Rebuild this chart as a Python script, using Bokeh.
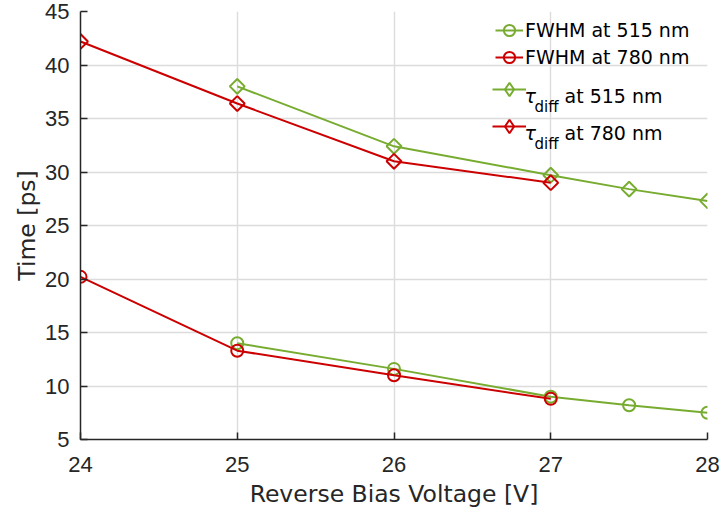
import numpy as np
from bokeh.plotting import figure
from bokeh.models import (Range1d, SingleIntervalTicker, Legend, LegendItem, Label)
from bokeh.embed import file_html
from bokeh.resources import INLINE

# ---- data ----
v_515 = [25, 26, 27, 27.5, 28]
fwhm_515 = [14.0, 11.6, 9.0, 8.2, 7.5]
v_780 = [24, 25, 26, 27]
fwhm_780 = [20.2, 13.3, 11.0, 8.8]
tau_515 = [38.0, 32.4, 29.7, 28.4, 27.3]
tau_780 = [42.2, 36.4, 31.0, 29.0]

GREEN = "#77AC30"
RED = "#CC0000"
AX = "#262626"
GRID = "#dcdcdc"

X0, X1, Y0, Y1 = 24, 28, 5, 45
FL, FT, FW, FH = 80, 11, 627, 428

p = figure(frame_width=FW, frame_height=FH, output_backend="svg", toolbar_location=None,
           x_range=Range1d(X0, X1), y_range=Range1d(Y0, Y1),
           min_border_left=FL, min_border_right=726 - FL - FW, min_border_top=FT,
           min_border_bottom=512 - FT - FH)
p.outline_line_color = None
p.background_fill_color = "white"
p.border_fill_color = "white"

p.xaxis.ticker = SingleIntervalTicker(interval=1)
p.yaxis.ticker = SingleIntervalTicker(interval=5)
for ax in (p.xaxis[0], p.yaxis[0]):
    ax.axis_line_color = AX
    ax.axis_line_width = 1.5
    ax.major_tick_line_color = AX
    ax.major_tick_line_width = 1.5
    ax.major_tick_in = 7
    ax.major_tick_out = 0
    ax.minor_tick_line_color = None
    ax.major_label_text_font = "Liberation Sans"
    ax.major_label_text_font_size = "22px"
    ax.major_label_text_color = AX
    ax.axis_label_text_font = "DejaVu Sans"
    ax.axis_label_text_font_size = "23.5px"
    ax.axis_label_text_font_style = "normal"
    ax.axis_label_text_color = AX
p.xaxis.axis_label = "Reverse Bias Voltage [V]"
p.yaxis.axis_label = "Time [ps]"
p.xaxis.major_label_standoff = 13
p.yaxis.major_label_standoff = 7
p.xaxis.axis_label_standoff = 5
p.yaxis.axis_label_standoff = 1

for g in (p.xgrid[0], p.ygrid[0]):
    g.grid_line_color = GRID
    g.grid_line_width = 1.4

def series(x, y, color, marker):
    l = p.line(x, y, line_color=color, line_width=2)
    if marker == "circle":
        s = p.scatter(x, y, marker="circle", size=12, line_color=color, line_width=2,
                      fill_alpha=0)
        return [l, s]
    p.scatter(x, y, marker="square", angle=np.pi / 4, size=10.5, line_color=color,
              line_width=2, fill_alpha=0)
    # hidden renderer: only supplies the diamond symbol drawn in the legend
    key = p.scatter(x, y, marker="diamond", size=22, line_color=color, line_width=2,
                    fill_alpha=0, visible=False)
    return [l, key]

r_f515 = series(v_515, fwhm_515, GREEN, "circle")
r_f780 = series(v_780, fwhm_780, RED, "circle")
r_t515 = series(v_515, tau_515, GREEN, "diamond")
r_t780 = series(v_780, tau_780, RED, "diamond")

# ---- legend, one row per entry (rows of the reference are unevenly spaced) ----
# (label, renderers, row centre, glyph width, glyph height, left px)
rows = [("FWHM at 515 nm", r_f515, 30, 28, 28, 495),
        ("FWHM at 780 nm", r_f780, 56.5, 28, 28, 495),
        (" ", r_t515, 88.5, 34, 34, 492),
        (" ", r_t780, 125.5, 34, 34, 492)]
for lab, rs, cy, gw, gh, left in rows:
    lg = Legend(items=[LegendItem(label=lab, renderers=rs)],
                location=(left - FL, FT + FH - cy - gh / 2),
                glyph_width=gw, glyph_height=gh, label_height=gh, label_standoff=2,
                padding=0, margin=0, border_line_color=None, background_fill_alpha=0,
                label_text_font="DejaVu Sans", label_text_font_size="19px",
                label_text_color="black")
    p.add_layout(lg)

def px2x(px):
    return X0 + (px - FL) / FW * (X1 - X0)

def px2y(py):
    return Y1 - (py - FT) / FH * (Y1 - Y0)

for wl, base in (("515", 95), ("780", 132)):
    p.add_layout(Label(x=px2x(524), y=px2y(base), text="τ", text_font="DejaVu Sans",
                       text_font_style="italic", text_font_size="19px", text_color="black",
                       text_baseline="alphabetic", text_align="left"))
    p.add_layout(Label(x=px2x(534), y=px2y(base + 11.5), text="diff", text_font="DejaVu Sans",
                       text_font_size="15px", text_color="black",
                       text_baseline="alphabetic", text_align="left"))
    p.add_layout(Label(x=px2x(564), y=px2y(base), text=f"at {wl} nm", text_font="DejaVu Sans",
                       text_font_size="19px", text_color="black",
                       text_baseline="alphabetic", text_align="left"))

open("out.html", "w").write(file_html(p, INLINE))
